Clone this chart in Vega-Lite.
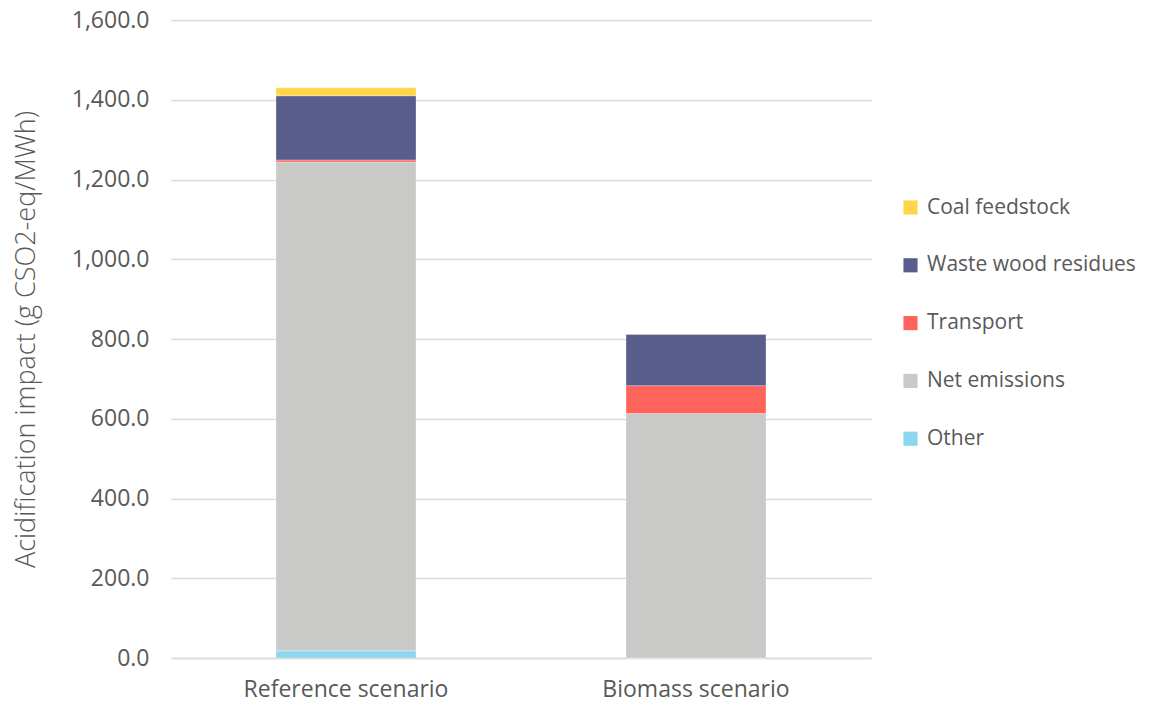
{
  "$schema": "https://vega.github.io/schema/vega-lite/v6.json",
  "autosize": {"type": "none"},
  "padding": {"left": 171, "top": 20, "right": 302, "bottom": 46},
  "width": 700,
  "height": 638,
  "background": "white",
  "config": {
    "font": "Open Sans",
    "view": {"stroke": null}
  },
  "data": {
    "values": [
      {"scenario": "Reference scenario", "source": "Other", "ord": 1, "value": 18},
      {"scenario": "Reference scenario", "source": "Net emissions", "ord": 2, "value": 1226},
      {"scenario": "Reference scenario", "source": "Transport", "ord": 3, "value": 5},
      {"scenario": "Reference scenario", "source": "Waste wood residues", "ord": 4, "value": 161},
      {"scenario": "Reference scenario", "source": "Coal feedstock", "ord": 5, "value": 20},
      {"scenario": "Biomass scenario", "source": "Other", "ord": 1, "value": 0},
      {"scenario": "Biomass scenario", "source": "Net emissions", "ord": 2, "value": 613},
      {"scenario": "Biomass scenario", "source": "Transport", "ord": 3, "value": 70},
      {"scenario": "Biomass scenario", "source": "Waste wood residues", "ord": 4, "value": 129},
      {"scenario": "Biomass scenario", "source": "Coal feedstock", "ord": 5, "value": 0}
    ]
  },
  "mark": {"type": "bar", "stroke": "white", "strokeWidth": 0.5, "strokeOpacity": 0.6},
  "encoding": {
    "x": {
      "field": "scenario",
      "type": "nominal",
      "sort": ["Reference scenario", "Biomass scenario"],
      "scale": {"paddingInner": 0.6, "paddingOuter": 0.3},
      "axis": {
        "title": null,
        "labelAngle": 0,
        "labelFontSize": 23,
        "labelColor": "#595959",
        "labelPadding": 20,
        "labelLimit": 400,
        "ticks": false,
        "domainColor": "#D9D9D9",
        "domainWidth": 1.5
      }
    },
    "y": {
      "field": "value",
      "type": "quantitative",
      "stack": "zero",
      "scale": {"domain": [0, 1600], "nice": false},
      "axis": {
        "title": "Acidification impact (g CSO2-eq/MWh)",
        "titleFontSize": 27,
        "titleFontWeight": 300,
        "titleColor": "#595959",
        "titlePadding": 31,
        "values": [0, 200, 400, 600, 800, 1000, 1200, 1400, 1600],
        "format": ",.1f",
        "labelFontSize": 23,
        "labelColor": "#595959",
        "labelPadding": 22,
        "ticks": false,
        "domain": false,
        "gridColor": "#D9D9D9",
        "gridWidth": 1.5
      }
    },
    "color": {
      "field": "source",
      "type": "nominal",
      "scale": {
        "domain": ["Coal feedstock", "Waste wood residues", "Transport", "Net emissions", "Other"],
        "range": ["#FFD54A", "#585D8C", "#FF645C", "#C9C9C7", "#8BD8EE"]
      },
      "legend": {
        "title": null,
        "orient": "none",
        "legendX": 729,
        "legendY": 177,
        "symbolType": "square",
        "symbolSize": 200,
        "symbolStrokeWidth": 0,
        "labelFontSize": 21,
        "labelColor": "#595959",
        "labelOffset": 6,
        "rowPadding": 35.8,
        "labelLimit": 300
      }
    },
    "order": {"field": "ord", "type": "quantitative", "sort": "ascending"}
  }
}
